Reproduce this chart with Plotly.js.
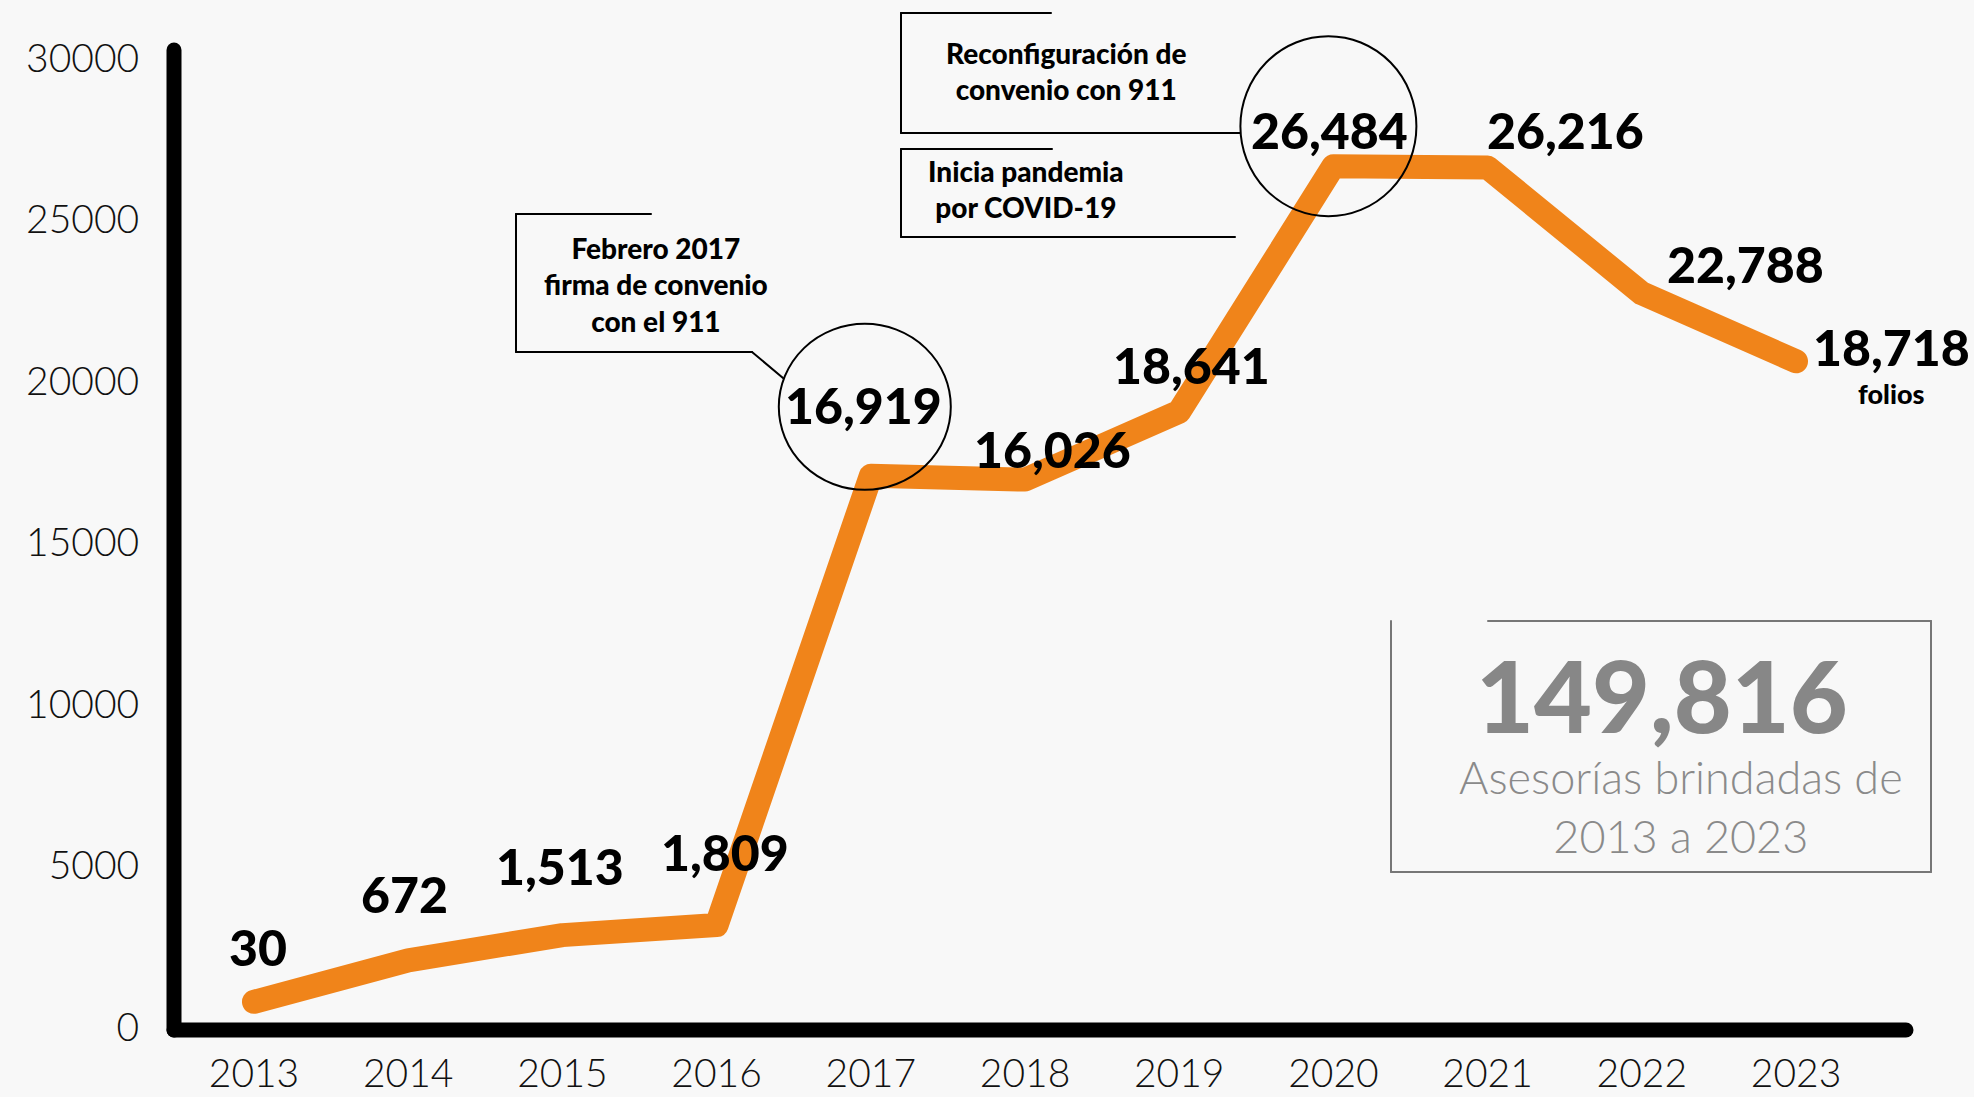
<!DOCTYPE html>
<html>
<head>
<meta charset="utf-8">
<script src="https://cdn.plot.ly/plotly-3.0.1.min.js"></script>
<style>
  html, body { margin: 0; padding: 0; background: #f7f7f7; }
  #chart { width: 1974px; height: 1097px; }
  .js-line { stroke-linecap: round; stroke-linejoin: round; }
  .shapelayer path { stroke-linecap: round; }
</style>
</head>
<body>
<div id="chart"></div>
<script>
// years on the x axis
const years = [2013, 2014, 2015, 2016, 2017, 2018, 2019, 2020, 2021, 2022, 2023];
// height of the orange line as drawn in the picture
const lineY = [780, 2065, 2844, 3156, 17065, 16947, 19050, 26650, 26610, 22714, 20610];
// numbers printed next to each point
const labels = [30, 672, 1513, 1809, 16919, 16026, 18641, 26484, 26216, 22788, 18718];
const yTicks = [0, 5000, 10000, 15000, 20000, 25000, 30000];
const totalText = '149,816';
const totalCaption = 'Asesorías brindadas de<br>2013 a 2023';

// label offsets in px (x, up)
const labelShift = [[4, 55], [-4, 66], [-2, 69], [8, 73], [-7, 71], [27, 31],
                    [12, 47], [-4, 36], [78, 37], [104, 29], [95, 14]];

const W = 1974, H = 1097;
const M = { l: 150, r: 20, t: 20, b: 50 };
const pw = W - M.l - M.r, ph = H - M.t - M.b;
const px = x => (x - M.l) / pw;
const py = y => (H - M.b - y) / ph;

const orange = '#F0841A';
const boldFont = { family: 'Lato, sans-serif', size: 50, color: '#000', weight: 900 };
const boxFont = { family: 'Lato, sans-serif', size: 28, color: '#000', weight: 900 };

const trace = {
  x: years, y: lineY, type: 'scatter', mode: 'lines',
  line: { color: orange, width: 24 },
  hoverinfo: 'skip'
};

const annotations = years.map((yr, i) => ({
  x: yr, y: lineY[i], xref: 'x', yref: 'y',
  xanchor: 'center', yanchor: 'middle',
  text: labels[i].toLocaleString('en-US'),
  showarrow: false, xshift: labelShift[i][0], yshift: labelShift[i][1],
  font: boldFont
}));

function note(x, y, text, font) {
  return { x: px(x), y: py(y), xref: 'paper', yref: 'paper',
    xanchor: 'center', yanchor: 'middle', align: 'center',
    text: text, showarrow: false, font: font };
}

annotations.push(note(1891, 393, 'folios',
  { family: 'Lato, sans-serif', size: 27, color: '#000', weight: 900 }));
annotations.push(note(656, 285, 'Febrero 2017<br>firma de convenio<br>con el 911', boxFont));
annotations.push(note(1066, 71, 'Reconfiguración de<br>convenio con 911', boxFont));
annotations.push(note(1026, 189, 'Inicia pandemia<br>por COVID-19', boxFont));
annotations.push(note(1662, 694, totalText,
  { family: 'Lato, sans-serif', size: 100, color: '#878787', weight: 900 }));
annotations.push(note(1681, 806, totalCaption,
  { family: 'Lato, sans-serif', size: 45, color: '#8a8a8a', weight: 300 }));

function seg(x0, y0, x1, y1, w, c) {
  return { type: 'line', xref: 'paper', yref: 'paper', layer: 'above',
    x0: px(x0), y0: py(y0), x1: px(x1), y1: py(y1), line: { color: c || '#000', width: w } };
}

const shapes = [
  // axes
  seg(174, 50, 174, 1030, 15),
  seg(174, 1030, 1906, 1030, 15),
  // Febrero 2017 bracket
  seg(516, 214, 651, 214, 2), seg(516, 214, 516, 352, 2),
  seg(516, 352, 752, 352, 2), seg(752, 352, 783, 378, 2),
  // Reconfiguración bracket
  seg(901, 13, 1051, 13, 2), seg(901, 13, 901, 133, 2), seg(901, 133, 1240, 133, 2),
  // COVID bracket
  seg(901, 149, 1052, 149, 2), seg(901, 149, 901, 237, 2), seg(901, 237, 1235, 237, 2),
  // total box
  seg(1391, 621, 1391, 872, 2, '#777'), seg(1391, 872, 1931, 872, 2, '#777'),
  seg(1931, 872, 1931, 621, 2, '#777'), seg(1931, 621, 1488, 621, 2, '#777'),
  // circles around 2017 and 2020
  { type: 'circle', xref: 'x', yref: 'y', xsizemode: 'pixel', ysizemode: 'pixel',
    xanchor: years[4], yanchor: lineY[4], x0: -92, x1: 80, y0: -14, y1: 152,
    layer: 'above', line: { color: '#000', width: 2 } },
  { type: 'circle', xref: 'x', yref: 'y', xsizemode: 'pixel', ysizemode: 'pixel',
    xanchor: years[7], yanchor: lineY[7], x0: -93, x1: 83, y0: -50, y1: 130,
    layer: 'above', line: { color: '#000', width: 2 } }
];

const tickFont = { family: 'Lato, sans-serif', size: 39, color: '#111', weight: 300 };

const layout = {
  width: W, height: H,
  margin: M,
  paper_bgcolor: '#f8f8f8',
  plot_bgcolor: 'rgba(0,0,0,0)',
  showlegend: false,
  xaxis: {
    range: [2012.3256, 2024.0246],
    tickvals: years, ticktext: years.map(String),
    showgrid: false, zeroline: false, showline: false,
    ticks: '', tickfont: tickFont
  },
  yaxis: {
    range: [-619, 31176],
    tickvals: yTicks, tickformat: 'd',
    showgrid: false, zeroline: false, showline: false,
    ticks: 'outside', ticklen: 2, tickcolor: 'rgba(0,0,0,0)',
    tickfont: tickFont
  },
  annotations: annotations,
  shapes: shapes
};

Plotly.newPlot('chart', [trace], layout, { displayModeBar: false, staticPlot: true });
</script>
</body>
</html>
